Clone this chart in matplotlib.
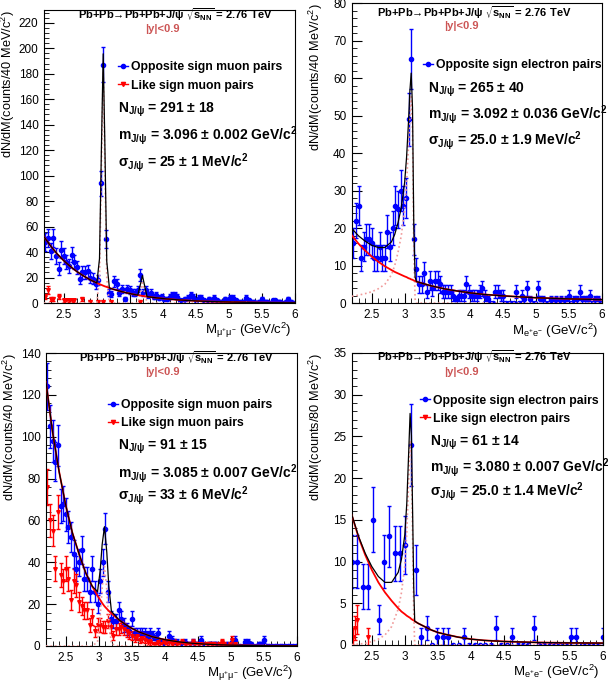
import numpy as np
import matplotlib
matplotlib.use('Agg')
import matplotlib.pyplot as plt
from matplotlib.lines import Line2D
from matplotlib.ticker import MultipleLocator, AutoMinorLocator, FormatStrFormatter

plt.rcParams['font.family'] = ['Liberation Sans', 'DejaVu Sans']
plt.rcParams['mathtext.default'] = 'regular'

# bin centres: 40 MeV bins from 2.2 to 6 GeV, and the 80 MeV binning of the last panel
bins40 = np.round(np.arange(2.22, 6.0, 0.04), 2)
bins80 = np.linspace(2.2, 6.0, 48)

# ---- top left: muon pairs ----
mu1_os = [48, 51, 41, 51, 37, 27, 42, 37, 32, 29,
          38, 32, 28, 19, 24, 24, 25, 20, 19, 15,
          18, 94, 187, 50, 8, 7, 17, 15, 8, 11,
          3, 11, 10, 8, 8, 10, 22, 8, 10, 6,
          8, 5, 6, 4, 5, 3, 3, 5, 6, 6,
          5, 2, 2, 3, 4, 6, 5, 2, 4, 4,
          2, 1, 3, 2, 4, 2, 1, 1, 3, 2,
          4, 4, 2, 1, 1, 1, 4, 2, 1, 1,
          0, 1, 3, 1, 1, 0, 2, 2, 1, 1,
          0, 1, 3, 1, 0]
mu1_ls_x = [2.22, 2.26, 2.30, 2.34, 2.42, 2.50, 2.54, 2.58, 2.62, 2.66, 2.78, 2.90, 3.02, 3.10, 3.22, 3.66]
mu1_ls = [5, 10, 3, 3, 5, 2, 2, 2, 2, 2, 3, 1, 1, 1, 1, 1]
mu1_fx = [2.2, 2.3, 2.4, 2.5, 2.6, 2.7, 2.8, 2.9, 3.0, 3.04, 3.07, 3.096, 3.12, 3.15, 3.19,
          3.25, 3.35, 3.45, 3.55, 3.62, 3.66, 3.69, 3.72, 3.76, 3.85, 4.0, 4.2, 4.4,
          4.6, 4.8, 5.0, 5.2, 5.4, 5.6, 5.8, 6.0]
mu1_bkg = [52, 44.8, 38.5, 33.2, 28.6, 24.6, 21.2, 18.2, 15.7, 14.8, 14.2, 13.6, 13.1, 12.6, 11.8,
           10.8, 9.3, 8.0, 6.9, 6.2, 5.8, 5.6, 5.3, 5.0, 4.4, 3.5, 2.6, 1.9,
           1.4, 1.05, 0.78, 0.58, 0.43, 0.32, 0.23, 0.17]
mu1_sig = [0, 0, 0, 0, 0, 0, 0, 0, 0, 20, 110, 182, 115, 20, 0,
           0, 0, 0, 0, 0, 9, 16, 9, 0, 0, 0, 0, 0,
           0, 0, 0, 0, 0, 0, 0, 0]

# ---- top right: electron pairs ----
el1_os = [16, 22, 26, 12, 15, 17, 17, 16, 12, 12,
          15, 12, 12, 19, 15, 20, 26, 25, 30, 26,
          28, 49, 65, 17, 9, 5, 5, 8, 3, 6,
          4, 6, 6, 5, 3, 3, 3, 3, 2, 1,
          2, 2, 2, 5, 3, 2, 2, 2, 3, 4,
          2, 1, 0, 0, 3, 3, 2, 2, 0, 0,
          0, 0, 3, 0, 2, 1, 4, 1, 0, 0,
          4, 1, 1, 0, 0, 1, 0, 1, 0, 1,
          0, 1, 2, 0, 1, 1, 3, 1, 1, 1,
          2, 0, 1, 1, 0]
el1_fx = [2.2, 2.3, 2.4, 2.5, 2.6, 2.7, 2.8, 2.85, 2.9, 2.95, 3.0, 3.03, 3.06, 3.08, 3.1,
          3.12, 3.14, 3.16, 3.18, 3.2, 3.3, 3.4, 3.5, 3.6, 3.8, 4.0, 4.2, 4.5, 5.0, 5.5, 6.0]
el1_bkg = [18, 15.8, 14, 12.4, 11, 9.8, 8.8, 8.3, 7.9, 7.5, 7.1, 6.9, 6.6, 6.5, 6.3,
           6.2, 6.0, 5.9, 5.7, 5.6, 5.1, 4.6, 4.2, 3.8, 3.2, 2.7, 2.3, 1.9, 1.4, 1.1, 0.9]
el1_sig = [1.8, 2.1, 2.5, 3.0, 3.8, 5.0, 7.5, 10, 13.5, 18, 25, 32, 42, 50, 55,
           46, 14, 1, 0, 0, 0, 0, 0, 0, 0, 0, 0, 0, 0, 0, 0]

# ---- bottom left: muon pairs ----
mu2_os = [124, 105, 98, 88, 96, 67, 68, 63, 57, 52,
          44, 37, 40, 46, 32, 32, 26, 37, 26, 20,
          31, 40, 56, 26, 13, 12, 12, 17, 13, 10,
          8, 7, 13, 6, 6, 6, 6, 6, 5, 6,
          5, 4, 6, 2, 1, 2, 5, 3, 2, 2,
          1, 1, 2, 1, 1, 2, 1, 1, 3, 1,
          0, 1, 1, 1, 1, 0, 0, 0, 1, 0,
          2, 3, 0, 0, 0, 2, 2, 1, 0, 0,
          1, 1, 3, 0, 0, 0, 0, 0, 0, 0,
          0, 0, 0, 0, 0]
mu2_ls = [76, 60, 55, 37, 64, 34, 31, 37, 32, 22,
          31, 29, 21, 19, 17, 17, 10, 14, 7, 10,
          10, 9, 9, 12, 9, 5, 8, 8, 9, 8,
          7, 6, 5, 4, 5, 3, 4, 3, 2, 2,
          1, 1, 2, 1, 2, 1, 2, 1, 2, 1,
          1, 2, 1, 1, 1, 2, 1, 1, 1, 0,
          1, 1, 1, 1, 0, 1, 2, 1, 0, 1,
          3, 1, 0, 0, 0, 0, 0, 0, 0, 0,
          0, 0, 0, 0, 0, 0, 0, 0, 0, 0,
          0, 0, 0, 0, 0]
mu2_fx = [2.2, 2.3, 2.4, 2.5, 2.6, 2.7, 2.8, 2.9, 2.98, 3.02, 3.05, 3.085, 3.12, 3.15, 3.19,
          3.3, 3.4, 3.5, 3.6, 3.8, 4.0, 4.2, 4.4, 4.6, 4.8, 5.0, 5.5, 6.0]
mu2_bkg = [126, 102, 83, 67, 54, 44, 35, 28.5, 24, 22, 20.5, 19, 17.8, 16.8, 15.6,
           12.6, 10.3, 8.4, 6.8, 4.5, 3.0, 2.0, 1.35, 0.9, 0.6, 0.4, 0.15, 0.05]
mu2_sig = [0, 0, 0, 0, 0, 0, 0, 0, 2, 14, 28, 38, 27, 12, 1,
           0, 0, 0, 0, 0, 0, 0, 0, 0, 0, 0, 0, 0]

# ---- bottom right: electron pairs (80 MeV bins) ----
el2_os = [10, 10, 7, 7, 15, 3, 10, 13, 11, 11,
          12, 24, 9, 1, 2, 0, 1, 1, 1, 0,
          0, 1, 0, 0, 0, 0, 0, 2, 0, 0,
          1, 0, 0, 0, 2, 0, 0, 0, 0, 0,
          0, 1, 1, 0, 0, 0, 0, 1]
el2_ls_x = [2.21, 2.25, 2.28, 2.45]
el2_ls = [1, 2, 3, 1]
el2_fx = [2.2, 2.3, 2.4, 2.5, 2.6, 2.7, 2.8, 2.9, 2.95, 3.0, 3.03, 3.06, 3.08, 3.1, 3.12,
          3.135, 3.15, 3.2, 3.3, 3.4, 3.5, 3.6, 3.8, 4.0, 4.2, 4.5, 5.0, 5.5, 6.0]
el2_bkg = [15.5, 12.9, 10.8, 9.0, 7.5, 6.3, 5.3, 4.4, 4.0, 3.7, 3.5, 3.35, 3.25, 3.1, 3.0,
           2.95, 2.85, 2.6, 2.2, 1.8, 1.5, 1.3, 0.95, 0.7, 0.55, 0.42, 0.3, 0.25, 0.22]
el2_sig = [0.05, 0.1, 0.2, 0.4, 0.7, 1.2, 2.2, 4.3, 6.3, 9.5, 13.5, 20, 24.5, 22, 12,
           4, 0, 0, 0, 0, 0, 0, 0, 0, 0, 0, 0, 0, 0]

title = r'Pb+Pb→Pb+Pb+J/ψ $\sqrt{s_{NN}}$ = 2.76 TeV'
mumu = r'M$_{μ^{+}μ^{-}}$ (GeV/c$^{2}$)'
ee = r'M$_{e^{+}e^{-}}$ (GeV/c$^{2}$)'


def panel(rect, bx, os_y, ls_x, ls_y, fx, bkg, sig, ymax, ystep, ylab, xlab,
          labels, fit, tpos, leg_xy, fit_x, fit_y):
    ax = fig.add_axes(rect)
    os_y = np.array(os_y, dtype=float)
    ax.errorbar(bx, os_y, yerr=np.sqrt(os_y), fmt='o', color='blue', ms=3,
                elinewidth=1, capsize=1.4, zorder=2)
    if ls_x is not None:
        ls_x = np.array(ls_x, dtype=float)
        ls_y = np.array(ls_y, dtype=float)
        keep = ls_y > 0
        ax.errorbar(ls_x[keep], ls_y[keep], yerr=np.sqrt(ls_y[keep]), fmt='v', color='red',
                    ms=2.6, elinewidth=1, capsize=1.2, zorder=2)
    fx = np.array(fx)
    bkg = np.array(bkg)
    sig = np.array(sig)
    ax.plot(fx, sig, color='#f09a9a', ls=':', lw=1.2, zorder=3)
    ax.plot(fx, bkg, color='red', lw=1.3, zorder=3)
    ax.plot(fx, bkg + sig, color='black', lw=0.9, zorder=4)

    ax.set_xlim(2.2, 6.0)
    ax.set_ylim(0, ymax)
    ax.xaxis.set_major_locator(MultipleLocator(0.5))
    ax.xaxis.set_minor_locator(MultipleLocator(0.1))
    ax.xaxis.set_major_formatter(FormatStrFormatter('%g'))
    ax.yaxis.set_major_locator(MultipleLocator(ystep))
    ax.yaxis.set_minor_locator(AutoMinorLocator(5))
    ax.tick_params(which='both', direction='in', top=False, right=False, labelsize=8.5)
    ax.tick_params(which='major', length=7, pad=4)
    ax.tick_params(which='minor', length=3.5)

    ax.set_ylabel(ylab, fontsize=9.2, loc='top')
    ax.yaxis.set_label_coords(-0.108, 1.0)
    ax.set_xlabel(xlab, fontsize=9.5, loc='right')
    ax.xaxis.set_label_coords(0.985, -0.062)

    ax.text(tpos[0], tpos[1], title, transform=ax.transAxes, ha='center', va='center',
            fontsize=8, fontweight='bold')
    ax.text(tpos[2], tpos[3], '|y|<0.9', transform=ax.transAxes, ha='center', va='center',
            fontsize=8, fontweight='bold', color='#cc5555')

    handles = [Line2D([], [], color='blue', marker='o', ms=3, lw=1),
               Line2D([], [], color='red', marker='v', ms=3, lw=1)][:len(labels)]
    ax.legend(handles, labels, loc='center left', bbox_to_anchor=leg_xy, frameon=False,
              handlelength=0.8, handletextpad=0.25, borderpad=0, borderaxespad=0,
              labelspacing=0.5, prop={'weight': 'bold', 'size': 8.8})

    for txt, yy in zip(fit, fit_y):
        ax.text(fit_x, yy, txt, transform=ax.transAxes, ha='left', va='center',
                fontsize=10, fontweight='bold')
    return ax


fig = plt.figure(figsize=(6.08, 6.82), dpi=100)

panel([0.0724, 0.5557, 0.4128, 0.4296], bins40, mu1_os, mu1_ls_x, mu1_ls,
      mu1_fx, mu1_bkg, mu1_sig, 230, 20, 'dN/dM(counts/40 MeV/c$^{2}$)', mumu,
      ['Opposite sign muon pairs', 'Like sign muon pairs'],
      [r'N$_{J/ψ}$ = 291 ± 18', r'm$_{J/ψ}$ = 3.096 ± 0.002 GeV/c$^{2}$',
       r'σ$_{J/ψ}$ = 25 ± 1 MeV/c$^{2}$'],
      (0.522, 0.983, 0.47, 0.935), (0.295, 0.773), 0.295, (0.659, 0.570, 0.481))

panel([0.5789, 0.5557, 0.4112, 0.4399], bins40, el1_os, None, None,
      el1_fx, el1_bkg, el1_sig, 80, 10, 'dN/dM(counts/40 MeV/c$^{2}$)', ee,
      ['Opposite sign electron pairs'],
      [r'N$_{J/ψ}$ = 265 ± 40', r'm$_{J/ψ}$ = 3.092 ± 0.036 GeV/c$^{2}$',
       r'σ$_{J/ψ}$ = 25.0 ± 1.9 MeV/c$^{2}$'],
      (0.49, 0.967, 0.438, 0.923), (0.284, 0.793), 0.306, (0.71, 0.627, 0.543))

panel([0.0757, 0.0528, 0.4128, 0.4296], bins40, mu2_os, bins40, mu2_ls,
      mu2_fx, mu2_bkg, mu2_sig, 140, 20, 'dN/dM(counts/40 MeV/c$^{2}$)', mumu,
      ['Opposite sign muon pairs', 'Like sign muon pairs'],
      [r'N$_{J/ψ}$ = 91 ± 15', r'm$_{J/ψ}$ = 3.085 ± 0.007 GeV/c$^{2}$',
       r'σ$_{J/ψ}$ = 33 ± 6 MeV/c$^{2}$'],
      (0.518, 0.983, 0.462, 0.935), (0.247, 0.792), 0.287, (0.679, 0.59, 0.515))

panel([0.5789, 0.0543, 0.4128, 0.4282], bins80, el2_os, el2_ls_x, el2_ls,
      el2_fx, el2_bkg, el2_sig, 35, 5, 'dN/dM(counts/80 MeV/c$^{2}$)', ee,
      ['Opposite sign electron pairs', 'Like sign electron pairs'],
      [r'N$_{J/ψ}$ = 61 ± 14', r'm$_{J/ψ}$ = 3.080 ± 0.007 GeV/c$^{2}$',
       r'σ$_{J/ψ}$ = 25.0 ± 1.4 MeV/c$^{2}$'],
      (0.486, 0.986, 0.434, 0.935), (0.271, 0.806), 0.31, (0.692, 0.606, 0.524))

fig.savefig('out.png', dpi=100)
